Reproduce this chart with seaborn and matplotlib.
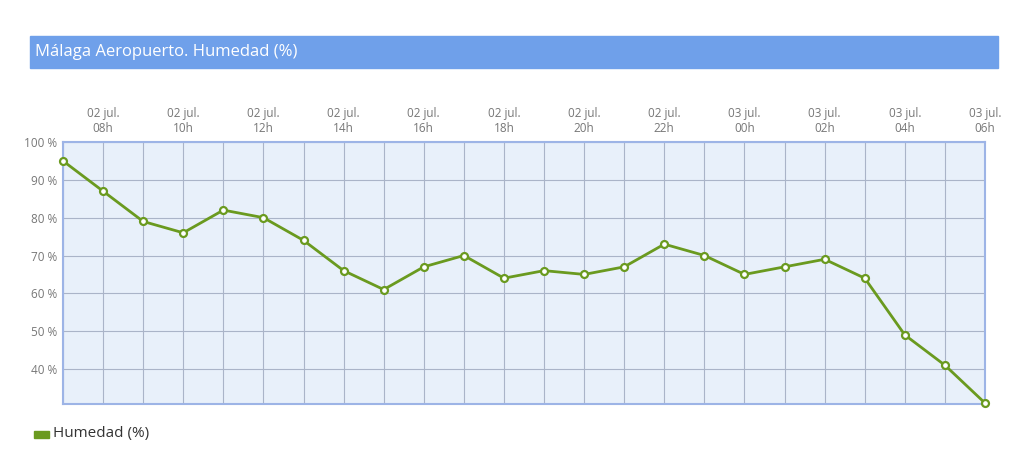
# Málaga Aeropuerto - humedad por horas
import pandas as pd
import matplotlib.pyplot as plt
import seaborn as sns
from matplotlib.patches import Rectangle

# datos
horas = ["07h", "08h", "09h", "10h", "11h", "12h", "13h", "14h", "15h", "16h", "17h", "18h",
         "19h", "20h", "21h", "22h", "23h", "00h", "01h", "02h", "03h", "04h", "05h", "06h"]
dias = ["02 jul."] * 17 + ["03 jul."] * 7
humedad = [95, 87, 79, 76, 82, 80, 74, 66, 61, 67, 70, 64,
           66, 65, 67, 73, 70, 65, 67, 69, 64, 49, 41, 31]
y_ticks = [40, 50, 60, 70, 80, 90, 100]

data = pd.DataFrame({"pos": range(len(horas)), "humedad": humedad})

sns.set_style("white")
plt.rcParams['font.family'] = ['Open Sans', 'DejaVu Sans']

fig = plt.figure(figsize=(10.24, 4.76), dpi=100)
ax = fig.add_axes([63 / 1024, 1 - 404 / 476, 922 / 1024, 262 / 476])

verde = "#6a9a1f"
sns.lineplot(data=data, x="pos", y="humedad", ax=ax, color=verde, linewidth=2,
             marker="o", markersize=5, markerfacecolor="white",
             markeredgecolor=verde, markeredgewidth=1.6, zorder=5, clip_on=False)

ax.set_facecolor("#e8f0fa")
ax.set_xlim(0, len(horas) - 1)
ax.set_ylim(30.75, 100)

# etiquetas arriba cada 2 horas, rejilla cada hora
pos_lab = list(range(1, len(horas), 2))
ax.set_xticks(pos_lab)
ax.set_xticks([p for p in range(len(horas)) if p not in pos_lab], minor=True)
ax.set_xticklabels([dias[i] + "\n" + horas[i] for i in pos_lab])
ax.set_yticks(y_ticks)
ax.grid(True, which="both", axis="x", color="#aab4c8", linewidth=0.8)
ax.grid(True, which="major", axis="y", color="#aab4c8", linewidth=0.8)
ax.set_axisbelow(True)

ax.xaxis.tick_top()
ax.tick_params(axis="x", which="both", length=0, pad=5, labelsize=8.5,
               labelcolor="#777777")
ax.set_yticklabels([f"{v} %" for v in y_ticks])
ax.tick_params(axis="y", length=0, pad=4, labelsize=8.5, labelcolor="#777777")
ax.set_xlabel("")
ax.set_ylabel("")

for s in ax.spines.values():
    s.set_color("#9db4e6")
    s.set_linewidth(1.5)

# barra del título
fig.patches.append(Rectangle((30 / 1024, 1 - 68 / 476), 968 / 1024, 32 / 476,
                             transform=fig.transFigure, color="#6fa0ea", zorder=0))
fig.text(35 / 1024, 1 - 52 / 476, "Málaga Aeropuerto. Humedad (%)", color="white",
         fontsize=12, va="center", ha="left")

# leyenda
fig.patches.append(Rectangle((34 / 1024, 1 - 438 / 476), 15 / 1024, 7 / 476,
                             transform=fig.transFigure, color=verde))
fig.text(53 / 1024, 1 - 433 / 476, "Humedad (%)", color="#333333", fontsize=11,
         va="center", ha="left")

plt.savefig("out.png", dpi=100)
